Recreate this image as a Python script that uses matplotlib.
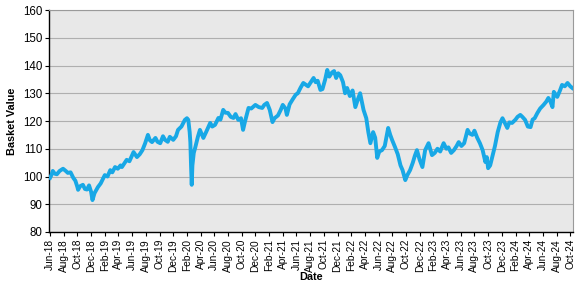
import matplotlib
matplotlib.use("Agg")
import matplotlib.pyplot as plt

# months since Jun-2018
months = [0, 0.2, 0.4, 0.7, 1.0, 1.4, 1.9, 2.3, 2.6, 3.0, 3.4, 3.7, 4.0, 4.1, 4.4, 4.8, 5.1, 5.4, 5.7, 6.0,
          6.2, 6.5, 7.0, 7.4, 7.7, 8.0, 8.4, 8.8, 9.1, 9.5, 9.9, 10.3, 10.5, 10.8, 11.2, 11.6, 12.2, 12.7, 13.1, 13.5,
          13.9, 14.3, 14.6, 14.9, 15.4, 15.7, 16.1, 16.5, 16.8, 17.2, 17.5, 18.0, 18.4, 18.7, 19.2, 19.7, 20.0, 20.2, 20.4, 20.5,
          20.6, 20.7, 20.8, 21.0, 21.2, 21.6, 21.9, 22.4, 22.8, 23.4, 23.7, 24.1, 24.6, 24.9, 25.3, 25.6, 26.0, 26.4, 26.8, 27.1,
          27.5, 27.9, 28.2, 28.5, 29.0, 29.4, 30.0, 30.5, 31.0, 31.3, 31.7, 32.1, 32.5, 32.8, 33.3, 33.7, 34.0, 34.4, 34.6, 35.0,
          35.5, 35.9, 36.2, 36.6, 37.0, 37.4, 37.7, 38.1, 38.5, 38.8, 39.1, 39.5, 39.8, 40.2, 40.5, 40.8, 41.2, 41.5, 41.8, 42.1,
          42.4, 42.8, 43.1, 43.4, 43.8, 44.2, 44.6, 45.0, 45.3, 45.8, 46.2, 46.5, 46.8, 47.2, 47.5, 47.8, 48.1, 48.5, 48.9, 49.4,
          49.7, 50.0, 50.4, 50.8, 51.2, 51.5, 51.9, 52.2, 52.6, 53.0, 53.3, 53.6, 54.0, 54.4, 54.8, 55.3, 55.8, 56.2, 56.6, 57.0,
          57.5, 57.9, 58.2, 58.6, 59.0, 59.4, 59.7, 60.1, 60.5, 61.0, 61.3, 61.7, 62.0, 62.4, 62.8, 63.2, 63.6, 63.8, 64.0, 64.3,
          64.6, 65.0, 65.4, 65.8, 66.1, 66.5, 66.8, 67.1, 67.5, 68.0, 68.3, 68.7, 69.0, 69.4, 69.8, 70.2, 70.5, 70.8, 71.2, 71.6,
          72.1, 72.5, 72.8, 73.1, 73.4, 73.6, 74.1, 74.5, 74.8, 75.2, 75.6, 76.0, 76.3]

basket = [99.5, 100.5, 102, 101, 100.8, 102, 102.8, 102, 101.3, 101.5, 99.5, 98.5, 96.2, 95.2, 96.5, 97, 95.5, 95.3, 96.8, 94.5,
          91.5, 94, 96.2, 97.5, 99, 100.5, 100, 102.3, 101.5, 103.4, 102.8, 104, 103.4, 104.5, 106, 105.5, 108.8, 107, 108, 109.5,
          112, 115, 113, 112.4, 113.9, 112.5, 112, 114.5, 113.2, 112.5, 114.3, 113.2, 114.5, 116.8, 118, 120.4, 121, 120.4, 116, 112.4,
          104, 97, 104, 108.5, 110.3, 114.3, 116.8, 113.9, 116, 119.3, 118, 118.6, 121.1, 120.5, 124, 123, 122.9, 121.5, 121.1, 122.5,
          120.4, 121, 116.8, 120, 124.7, 124.5, 125.8, 125, 124.7, 125.8, 126.5, 124, 119.6, 121, 122, 124, 125.8, 124.5, 122.2, 126,
          128, 129.5, 130, 132, 133.7, 133, 132.5, 134, 135.5, 134, 134.5, 131.2, 131.5, 135, 138.4, 136, 137.5, 138, 135.5, 137.2,
          136.5, 134, 130, 131.9, 129, 131, 125, 128, 130, 124, 121, 116, 112, 116, 114, 106.7, 109, 109.5, 111, 117.5,
          115, 113, 110.6, 108, 104, 102.3, 98.7, 100.5, 102.3, 105, 107.5, 109.5, 106, 103.4, 109.5, 112, 107.7, 108.5, 110, 109,
          112, 110, 110.5, 108.5, 109.5, 111, 112.4, 111, 112, 116.8, 115.5, 115, 116.5, 114, 112, 109.5, 105.2, 107, 103, 104,
          107, 111, 116, 119.5, 121, 119, 117.5, 119.5, 119.3, 120.5, 121.5, 122.2, 121.5, 120.4, 118, 117.8, 120.5, 121, 122.9, 124.5,
          125.8, 127, 128.3, 127, 125, 130.5, 128.7, 131, 133, 132.5, 133.7, 132.5, 131.9]

tick_labels = ["Jun-18", "Aug-18", "Oct-18", "Dec-18", "Feb-19", "Apr-19", "Jun-19", "Aug-19", "Oct-19", "Dec-19",
               "Feb-20", "Apr-20", "Jun-20", "Aug-20", "Oct-20", "Dec-20", "Feb-21", "Apr-21", "Jun-21", "Aug-21",
               "Oct-21", "Dec-21", "Feb-22", "Apr-22", "Jun-22", "Aug-22", "Oct-22", "Dec-22", "Feb-23", "Apr-23",
               "Jun-23", "Aug-23", "Oct-23", "Dec-23", "Feb-24", "Apr-24", "Jun-24", "Aug-24", "Oct-24"]
y_ticks = [80, 90, 100, 110, 120, 130, 140, 150, 160]

plt.rcParams['font.family'] = ['Liberation Sans', 'DejaVu Sans']

fig = plt.figure(figsize=(5.88, 2.91), dpi=100)
ax = fig.add_axes([49/588, 1 - 232/291, (573 - 49)/588, (232 - 10)/291])
ax.set_facecolor('#E8E8E8')

ax.plot(months, basket, color='#18A8E6', lw=2.8, solid_joinstyle='round', zorder=3)

ax.set_ylim(80, 160)
ax.set_yticks(y_ticks)
ax.set_xlim(-0.15, 76.4)
ax.set_xticks([2 * i for i in range(len(tick_labels))])
ax.set_xticklabels(tick_labels, rotation=90, fontsize=7.3)
ax.tick_params(axis='y', labelsize=8.3, length=3, width=0.8, pad=2)
ax.tick_params(axis='x', length=3, width=0.8, pad=2)

ax.grid(axis='y', color='#AFAFAF', lw=0.8, zorder=1)
ax.set_axisbelow(True)
for s in ['top', 'right']:
    ax.spines[s].set_color('#9A9A9A')
    ax.spines[s].set_linewidth(0.8)
for s in ['left', 'bottom']:
    ax.spines[s].set_color('black')
    ax.spines[s].set_linewidth(1.0)

ax.set_xlabel('Date', fontsize=7.8, fontweight='bold', labelpad=0)
ax.set_ylabel('Basket Value', fontsize=7.8, fontweight='bold', labelpad=4)

fig.savefig('out.png', dpi=100)
